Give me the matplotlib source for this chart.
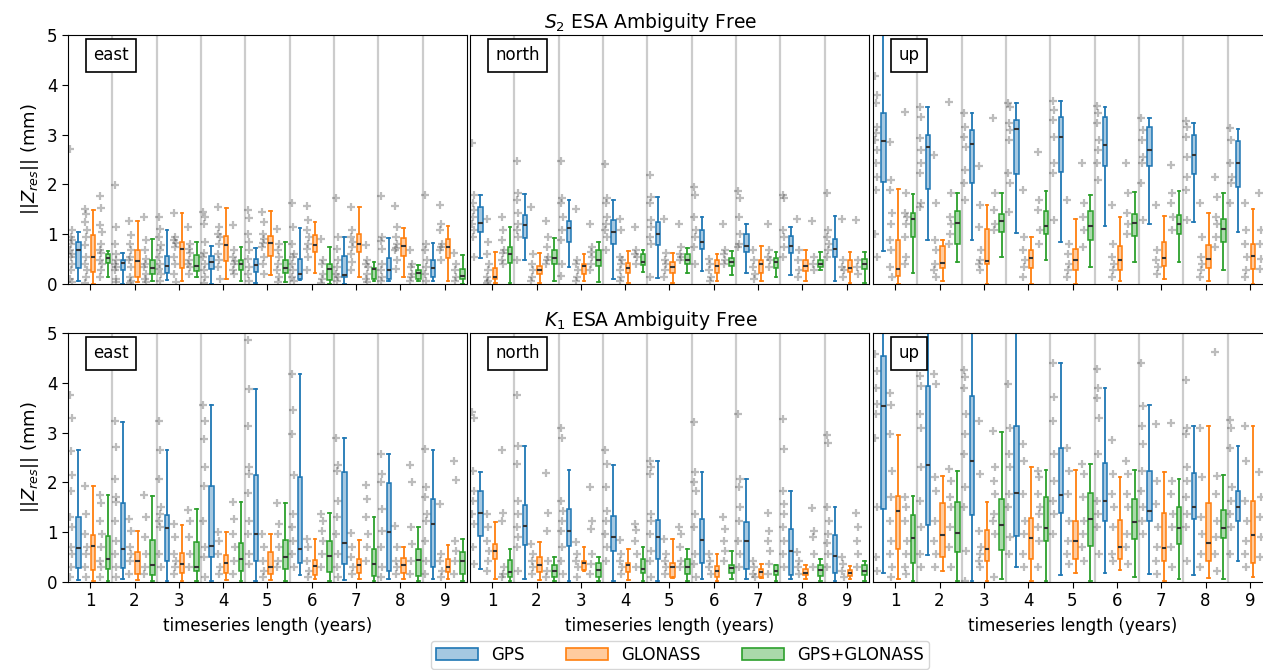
import numpy as np
import matplotlib
matplotlib.use("Agg")
import matplotlib.pyplot as plt
from matplotlib.patches import Patch

# ---------------- data ----------------
YEARS = [1, 2, 3, 4, 5, 6, 7, 8, 9]
SYSTEMS = ["GPS", "GLONASS", "GPS+GLONASS"]
COMPONENTS = ["east", "north", "up"]
TIDES = ["S_2", "K_1"]

# box stats per length: (whislo, q1, median, q3, whishi) in mm
S2_EAST_GPS_BOX = [(0.06,0.33,0.69,0.85,1.05),(0.0,0.28,0.43,0.48,0.62),(0.09,0.23,0.37,0.57,1.08),
                   (0.0,0.30,0.45,0.56,0.76),(0.02,0.25,0.38,0.50,0.72),(0.09,0.10,0.21,0.50,1.12),
                   (0.0,0.14,0.19,0.57,0.95),(0.07,0.11,0.29,0.52,0.92),(0.06,0.14,0.32,0.49,0.83)]
S2_EAST_GLO_BOX = [(0.0,0.25,0.54,0.99,1.48),(0.04,0.14,0.46,0.68,1.27),(0.07,0.33,0.71,0.84,1.43),
                   (0.11,0.46,0.79,0.96,1.52),(0.18,0.57,0.83,0.96,1.47),(0.23,0.65,0.79,0.99,1.24),
                   (0.15,0.64,0.80,1.00,1.54),(0.14,0.56,0.77,0.92,1.13),(0.07,0.53,0.74,0.91,1.16)]
S2_EAST_GG_BOX = [(0.14,0.42,0.52,0.61,0.66),(0.07,0.21,0.32,0.49,0.91),(0.15,0.26,0.36,0.58,0.85),
                  (0.07,0.29,0.41,0.48,0.74),(0.04,0.22,0.33,0.48,0.84),(0.0,0.09,0.30,0.40,0.74),
                  (0.06,0.11,0.30,0.33,0.45),(0.06,0.11,0.22,0.29,0.38),(0.0,0.10,0.17,0.30,0.58)]

S2_NORTH_GPS_BOX = [(0.52,1.04,1.23,1.54,1.79),(0.48,0.92,1.19,1.38,1.81),(0.34,0.84,1.13,1.27,1.68),
                    (0.11,0.81,1.05,1.28,1.68),(0.13,0.79,1.01,1.24,1.75),(0.26,0.70,0.84,1.09,1.34),
                    (0.23,0.65,0.77,1.00,1.21),(0.18,0.62,0.77,0.97,1.15),(0.07,0.54,0.70,0.91,1.36)]
S2_NORTH_GLO_BOX = [(0.02,0.11,0.14,0.32,0.65),(0.03,0.21,0.28,0.37,0.62),(0.06,0.21,0.37,0.40,0.60),
                    (0.03,0.22,0.33,0.42,0.66),(0.02,0.22,0.34,0.45,0.62),(0.07,0.23,0.37,0.48,0.61),
                    (0.07,0.22,0.40,0.48,0.76),(0.07,0.26,0.37,0.48,0.68),(0.03,0.25,0.33,0.49,0.65)]
S2_NORTH_GG_BOX = [(0.03,0.42,0.60,0.74,1.15),(0.06,0.41,0.53,0.69,0.93),(0.05,0.37,0.48,0.68,0.85),
                   (0.25,0.38,0.45,0.60,0.69),(0.22,0.40,0.48,0.61,0.72),(0.19,0.36,0.44,0.53,0.66),
                   (0.14,0.33,0.44,0.52,0.65),(0.28,0.34,0.41,0.49,0.64),(0.03,0.30,0.40,0.50,0.64)]

S2_UP_GPS_BOX = [(0.66,2.05,2.87,3.44,5.5),(0.88,1.91,2.76,2.99,3.56),(0.88,2.02,2.81,3.09,3.43),
                 (1.03,2.21,3.12,3.30,3.64),(0.85,2.25,2.95,3.35,3.68),(1.17,2.37,2.80,3.35,3.56),
                 (1.21,2.36,2.70,3.16,3.34),(1.24,2.21,2.60,2.99,3.24),(1.05,1.95,2.42,2.88,3.12)]
S2_UP_GLO_BOX = [(0.0,0.17,0.30,0.88,1.90),(0.07,0.32,0.42,0.77,0.89),(0.0,0.41,0.46,1.11,1.58),
                 (0.0,0.33,0.52,0.68,0.95),(0.0,0.29,0.49,0.70,1.31),(0.06,0.29,0.48,0.77,1.34),
                 (0.11,0.37,0.52,0.84,1.36),(0.06,0.33,0.50,0.79,1.43),(0.0,0.30,0.56,0.80,1.51)]
S2_UP_GG_BOX = [(0.23,0.95,1.31,1.42,1.81),(0.44,0.81,1.23,1.47,1.82),(0.54,1.05,1.27,1.40,1.82),
                (0.48,1.00,1.17,1.47,1.87),(0.34,0.89,1.17,1.47,1.79),(0.45,0.96,1.23,1.40,1.85),
                (0.45,1.01,1.21,1.39,1.86),(0.29,0.85,1.11,1.30,1.82),(0.40,0.90,1.10,1.35,1.80)]

K1_EAST_GPS_BOX = [(0.05,0.29,0.69,1.31,2.65),(0.06,0.29,0.66,1.58,3.22),(0.03,0.42,1.09,1.35,2.66),
                   (0.03,0.51,0.73,1.93,3.55),(0.03,0.42,0.97,2.14,3.87),(0.15,0.38,0.67,2.11,4.17),
                   (0.05,0.37,0.78,2.21,2.89),(0.06,0.23,1.01,1.98,2.57),(0.06,0.31,1.17,1.66,2.66)]
K1_EAST_GLO_BOX = [(0.03,0.25,0.73,0.95,1.93),(0.05,0.17,0.43,0.61,1.02),(0.03,0.18,0.37,0.59,1.15),
                   (0.05,0.18,0.38,0.55,1.01),(0.05,0.17,0.30,0.61,0.97),(0.06,0.15,0.33,0.45,0.86),
                   (0.07,0.19,0.34,0.47,0.85),(0.06,0.19,0.34,0.49,0.71),(0.06,0.21,0.31,0.46,0.74)]
K1_EAST_GG_BOX = [(0.03,0.26,0.46,0.93,1.75),(0.03,0.15,0.34,0.85,1.73),(0.03,0.22,0.30,0.81,1.46),
                  (0.03,0.22,0.47,0.78,1.61),(0.03,0.27,0.51,0.85,1.58),(0.03,0.21,0.53,0.82,1.38),
                  (0.03,0.13,0.37,0.67,1.31),(0.03,0.13,0.45,0.67,1.10),(0.03,0.17,0.42,0.61,0.86)]

K1_NORTH_GPS_BOX = [(0.27,0.93,1.39,1.83,2.21),(0.07,0.74,1.13,1.55,2.74),(0.03,0.73,1.03,1.46,2.25),
                    (0.03,0.62,0.91,1.33,2.35),(0.03,0.46,0.90,1.25,2.42),(0.06,0.38,0.85,1.27,2.21),
                    (0.07,0.27,0.82,1.21,2.06),(0.07,0.14,0.63,1.06,1.82),(0.03,0.19,0.53,0.95,1.50)]
K1_NORTH_GLO_BOX = [(0.06,0.47,0.63,0.77,1.21),(0.05,0.21,0.34,0.50,0.81),(0.23,0.25,0.38,0.43,0.70),
                    (0.05,0.21,0.35,0.39,0.67),(0.09,0.10,0.30,0.39,0.86),(0.03,0.10,0.23,0.33,0.57),
                    (0.09,0.11,0.21,0.27,0.37),(0.07,0.14,0.19,0.27,0.34),(0.06,0.13,0.19,0.25,0.33)]
K1_NORTH_GG_BOX = [(0.03,0.10,0.21,0.45,0.67),(0.03,0.11,0.23,0.35,0.50),(0.03,0.11,0.25,0.38,0.51),
                   (0.03,0.19,0.27,0.47,0.70),(0.03,0.17,0.30,0.46,0.67),(0.07,0.18,0.29,0.35,0.63),
                   (0.03,0.15,0.23,0.34,0.34),(0.03,0.13,0.25,0.35,0.46),(0.03,0.14,0.23,0.34,0.43)]

K1_UP_GPS_BOX = [(0.19,1.47,3.53,4.54,5.5),(0.54,1.14,2.34,3.93,5.5),(0.03,1.35,2.43,3.74,5.5),
                 (0.31,0.93,1.79,3.13,5.5),(0.14,1.39,1.74,2.69,4.39),(0.19,1.23,1.63,2.39,3.89),
                 (0.17,1.23,1.42,2.23,3.55),(0.15,1.26,1.51,2.18,3.13),(0.43,1.23,1.51,1.83,2.73)]
K1_UP_GLO_BOX = [(0.07,0.66,1.43,1.73,2.95),(0.23,0.50,0.94,1.58,2.13),(0.03,0.43,0.67,1.05,1.61),
                 (0.03,0.46,0.89,1.29,2.31),(0.18,0.46,0.83,1.23,2.25),(0.25,0.46,0.70,1.25,2.10),
                 (0.03,0.42,0.69,1.39,2.21),(0.09,0.42,0.79,1.58,3.14),(0.11,0.39,0.94,1.63,3.13)]
K1_UP_GG_BOX = [(0.03,0.38,0.89,1.34,1.73),(0.03,0.61,0.98,1.61,2.22),(0.06,0.65,1.14,1.66,3.02),
                (0.03,0.83,1.09,1.70,2.25),(0.03,0.73,1.26,1.79,2.37),(0.11,0.86,1.21,1.66,2.25),
                (0.06,0.77,1.09,1.50,2.07),(0.07,0.89,1.09,1.45,2.14),(0.05,0.75,1.10,1.45,2.20)]

# individual station values (grey crosses) per length
S2_EAST_GPS_PTS = [[2.72,1.08,0.95,0.88,0.81,0.68,0.6,0.54,0.41,0.28,0.11,0.05],
                   [1.99,1.15,0.81,0.6,0.48,0.41,0.35,0.28,0.11,0.04],
                   [1.34,1.11,0.95,0.78,0.68,0.55,0.41,0.3,0.21,0.07],
                   [1.45,1.35,1.21,0.85,0.62,0.54,0.41,0.28,0.14,0.03],
                   [1.48,1.32,1.01,0.85,0.68,0.5,0.34,0.21,0.07],
                   [1.62,1.15,0.81,0.6,0.54,0.41,0.28,0.14,0.07],
                   [1.72,0.95,0.7,0.48,0.34,0.21,0.14,0.07],
                   [1.77,0.95,0.87,0.7,0.41,0.28,0.14,0.07],
                   [1.78,0.81,0.68,0.48,0.34,0.21,0.07]]
S2_EAST_GLO_PTS = [[1.5,1.4,1.25,1.08,0.95,0.78,0.55,0.41,0.28,0.14,0.02],
                   [1.26,0.98,0.81,0.68,0.55,0.48,0.34,0.14,0.07,0.02],
                   [1.43,0.95,0.88,0.82,0.74,0.54,0.41,0.2,0.05],
                   [1.55,1.15,1.01,0.95,0.81,0.61,0.48,0.34,0.11],
                   [1.45,1.25,1.01,0.9,0.82,0.74,0.55,0.41,0.2],
                   [1.56,1.28,1.08,0.95,0.81,0.7,0.54,0.28],
                   [1.55,1.08,0.95,0.85,0.74,0.6,0.45,0.28],
                   [1.56,1.15,0.95,0.81,0.72,0.68,0.48,0.3],
                   [1.58,1.21,1.08,0.81,0.74,0.68,0.48]]
S2_EAST_GG_PTS = [[1.77,1.52,1.19,1.05,0.81,0.68,0.62,0.48,0.41,0.28,0.14],
                  [1.35,0.89,0.68,0.5,0.4,0.34,0.21,0.11,0.05],
                  [1.15,0.81,0.7,0.62,0.48,0.4,0.34,0.2],
                  [1.18,0.68,0.55,0.47,0.41,0.28,0.2],
                  [1.11,0.81,0.68,0.55,0.41,0.28,0.14,0.05],
                  [0.91,0.48,0.41,0.21,0.1,0.03],
                  [0.78,0.48,0.41,0.34,0.2,0.11,0.04],
                  [0.68,0.41,0.34,0.2,0.14,0.07],
                  [0.62,0.41,0.28,0.14,0.07]]

S2_NORTH_GPS_PTS = [[2.83,1.79,1.62,1.48,1.35,1.21,1.08,0.95,0.54],
                    [2.46,1.82,1.68,1.42,1.21,1.08,0.95,0.48],
                    [2.47,1.72,1.62,1.35,1.08,0.88,0.41,0.17],
                    [2.4,1.72,1.62,1.35,1.21,1.08,0.95,0.68],
                    [2.19,1.75,1.62,1.28,1.15,0.95,0.81,0.14],
                    [1.94,1.79,1.35,1.08,0.95,0.74,0.41],
                    [1.87,1.72,1.35,1.01,0.81,0.74],
                    [1.79,1.72,1.08,0.95,0.74,0.54],
                    [1.83,1.08,0.95,0.81,0.68,0.54]]
S2_NORTH_GLO_PTS = [[1.31,0.84,0.61,0.41,0.28,0.14,0.07,0.03],
                    [1.55,0.61,0.41,0.28,0.14,0.07],
                    [1.5,0.48,0.41,0.28,0.14,0.07],
                    [1.31,1.08,0.54,0.48,0.41,0.28,0.14,0.07],
                    [1.31,0.62,0.48,0.41,0.28,0.14],
                    [0.5,0.41,0.28,0.14,0.07],
                    [0.68,0.48,0.34,0.21,0.1],
                    [1.3,0.68,0.48,0.28,0.14],
                    [1.31,0.48,0.34,0.28,0.14]]
S2_NORTH_GG_PTS = [[1.35,1.08,0.88,0.68,0.62,0.48,0.41],
                   [1.27,0.95,0.74,0.54,0.48,0.41],
                   [1.21,0.74,0.65,0.54,0.41,0.28],
                   [1.15,0.68,0.6,0.54,0.41],
                   [1.21,0.74,0.61,0.55,0.48],
                   [1.21,0.68,0.6,0.48,0.41],
                   [1.21,0.68,0.55,0.48,0.34],
                   [1.26,0.54,0.41,0.28],
                   [1.28,0.48,0.34,0.21]]

S2_UP_GPS_PTS = [[4.17,3.79,3.63,3.16,3.03,2.89,2.69,2.42,2.15,1.89,1.01,0.54],
                 [3.56,3.36,2.93,2.69,2.42,2.22,1.62,1.55],
                 [3.43,3.16,2.96,2.76,2.29,2.02,1.68],
                 [3.64,3.56,3.23,3.09,2.89,2.22,2.02,1.45],
                 [3.68,3.5,3.3,2.96,2.42,2.22,1.28],
                 [3.58,3.43,3.23,2.89,2.69,2.42,2.09],
                 [3.33,3.09,2.89,2.56,2.42,2.02,1.28],
                 [3.28,3.16,2.96,2.56,2.15,1.89,1.28],
                 [3.13,2.89,2.42,2.15,2.02,1.62]]
S2_UP_GLO_PTS = [[2.86,2.09,1.89,1.42,1.21,0.88,0.68,0.34,0.14],
                 [2.6,1.63,0.88,0.68,0.41,0.28,0.14],
                 [2.36,1.58,1.15,0.68,0.48,0.41,0.28],
                 [1.89,0.95,0.68,0.48,0.34,0.14],
                 [1.68,0.81,0.61,0.41,0.28,0.14],
                 [1.58,0.81,0.54,0.41,0.28,0.14],
                 [1.58,0.68,0.48,0.34,0.21],
                 [1.62,0.95,0.54,0.41,0.28,0.14],
                 [1.63,1.08,0.81,0.54,0.28,0.14]]
S2_UP_GG_PTS = [[3.46,1.82,1.42,1.35,1.21,0.95,0.54,0.41],
                [3.66,1.82,1.35,1.21,1.01,0.81],
                [3.33,1.82,1.48,1.21,1.08],
                [2.66,1.68,1.48,1.08,0.81],
                [2.42,1.62,1.35,1.08,0.74],
                [2.43,1.82,1.42,1.21,1.01],
                [2.39,1.82,1.62,1.35,1.08],
                [2.15,1.75,1.35,1.21,0.95,0.74],
                [1.82,1.08,0.81,0.5,0.3]]

K1_EAST_GPS_PTS = [[3.75,3.29,2.63,2.15,1.82,1.3,1.1,0.7,0.57,0.3,0.1],
                   [3.23,2.71,2.06,1.7,1.6,1.23,0.83,0.57,0.3,0.1],
                   [3.23,2.66,2.07,1.5,1.37,1.23,1.1,0.57,0.3],
                   [3.55,3.23,2.87,2.3,1.93,1.23,0.7,0.5,0.1],
                   [4.85,3.87,3.13,2.3,2.17,1.79,1.23,0.97,0.57,0.37],
                   [4.17,3.45,2.97,2.15,1.37,1.1,0.83,0.57,0.3],
                   [2.89,2.35,2.23,1.63,1.3,0.97,0.57,0.3,0.1],
                   [2.57,2.17,2.01,1.46,1.03,0.7,0.3,0.1],
                   [2.67,1.9,1.7,1.37,1.23,0.83,0.43,0.17]]
K1_EAST_GLO_PTS = [[1.93,1.37,0.97,0.7,0.57,0.3,0.1],
                   [1.26,1.03,0.7,0.57,0.43,0.17],
                   [1.17,0.9,0.57,0.43,0.3,0.17],
                   [1.01,0.83,0.57,0.3,0.17],
                   [0.97,0.7,0.43,0.23,0.1],
                   [0.86,0.7,0.43,0.23,0.1],
                   [0.99,0.7,0.5,0.3,0.17],
                   [1.13,0.7,0.43,0.3,0.17],
                   [1.57,0.57,0.43,0.23,0.1]]
K1_EAST_GG_PTS = [[1.75,1.58,1.23,0.97,0.7,0.43,0.3,0.1],
                  [1.75,1.3,0.9,0.57,0.3,0.17],
                  [1.45,1.23,0.9,0.57,0.3],
                  [1.61,1.26,0.97,0.7,0.43,0.17],
                  [1.58,1.17,0.97,0.7,0.43,0.3],
                  [1.37,1.23,1.03,0.83,0.57,0.3],
                  [1.95,1.67,1.3,0.97,0.7,0.43],
                  [2.35,2.01,1.1,0.77,0.43,0.17],
                  [2.43,2.05,0.83,0.63,0.43,0.17]]

K1_NORTH_GPS_PTS = [[3.42,3.3,2.23,1.83,1.63,1.37,1.17,0.7,0.37],
                    [3.75,2.74,2.37,1.63,1.37,1.1,0.9,0.7,0.23],
                    [3.09,2.9,1.63,1.43,1.23,1.03,0.7,0.43,0.17],
                    [2.65,2.37,1.9,1.43,1.23,0.97,0.7,0.43],
                    [2.43,2.3,2.17,1.37,1.23,0.97,0.63,0.43,0.1],
                    [3.22,2.21,2.01,1.83,1.37,1.1,0.57,0.37,0.1],
                    [3.37,2.06,1.9,1.5,1.23,0.83,0.57,0.3],
                    [3.27,2.67,1.83,1.57,1.37,1.1,0.83,0.57,0.3],
                    [2.95,2.79,1.5,1.23,0.97,0.79,0.57,0.3]]
K1_NORTH_GLO_PTS = [[1.37,1.1,0.83,0.63,0.43,0.23],
                    [0.77,0.57,0.43,0.3,0.17],
                    [0.81,0.57,0.43,0.3,0.1],
                    [0.85,0.57,0.43,0.3,0.17],
                    [0.86,0.57,0.43,0.3,0.17],
                    [0.57,0.43,0.3,0.17],
                    [0.43,0.3,0.17,0.1],
                    [0.61,0.43,0.3,0.17],
                    [0.5,0.37,0.23,0.1]]
K1_NORTH_GG_PTS = [[2.65,1.39,1.23,0.3,0.17,0.1],
                   [2.19,1.38,1.03,0.43,0.23,0.1],
                   [1.91,1.23,1.07,0.57,0.37,0.17],
                   [1.17,1.05,0.83,0.57,0.3],
                   [1.1,0.97,0.7,0.43,0.3],
                   [1.3,1.07,0.83,0.63,0.43],
                   [1.38,1.03,0.83,0.63,0.37,0.17],
                   [1.49,1.03,0.9,0.57,0.3],
                   [1.39,1.1,0.83,0.57,0.3]]

K1_UP_GPS_PTS = [[4.57,4.23,3.9,3.57,3.37,2.9,1.5,0.5,0.23],
                 [4.13,3.93,3.37,3.1,2.3,1.63,1.1,0.57,0.3],
                 [4.26,4.11,3.9,3.37,2.97,2.57,1.9,1.5,0.63,0.03],
                 [3.97,3.1,2.57,2.3,1.77,1.5,0.9,0.57],
                 [4.39,3.71,3.23,2.57,2.03,1.63,1.37,0.97],
                 [4.27,3.9,3.7,3.3,2.57,1.63,1.37,1.1,0.57],
                 [4.39,3.54,3.14,2.77,2.23,1.83,1.5,1.23,0.97],
                 [4.06,3.1,2.97,2.3,2.03,1.7,1.37,1.1,0.43],
                 [3.25,3.1,2.7,1.9,1.63,1.37,1.1,0.57]]
K1_UP_GLO_PTS = [[3.79,3.55,2.97,2.23,1.7,1.23,0.83,0.57,0.3,0.1],
                 [4.17,3.97,2.1,1.83,1.23,0.83,0.57,0.3],
                 [3.23,2.17,1.03,0.7,0.57,0.43,0.3],
                 [2.77,2.43,1.77,1.23,0.97,0.57,0.3],
                 [2.7,2.23,1.77,1.23,0.83,0.57,0.37],
                 [2.86,2.17,1.77,1.5,1.1,0.57,0.43],
                 [3.17,2.03,1.57,1.1,0.7,0.43,0.17],
                 [3.1,2.1,1.3,0.97,0.57,0.3],
                 [3.13,2.43,1.63,1.23,0.83,0.57,0.3]]
K1_UP_GG_PTS = [[1.7,1.5,1.23,0.83,0.57,0.3,0.17],
                [2.27,2.03,1.7,1.5,1.1,0.7,0.3],
                [3.03,2.3,2.03,1.77,1.37,1.23,0.97,0.1],
                [2.23,2.1,1.77,1.5,1.37,1.1,0.83,0.3],
                [2.37,2.17,1.7,1.23,0.97,0.7,0.43],
                [2.43,2.17,1.77,1.5,0.97,0.7,0.37],
                [3.2,2.03,1.77,1.37,1.1,0.7,0.3],
                [4.61,2.13,1.77,1.23,0.9,0.57,0.23],
                [2.2,1.7,1.3,0.9,0.5]]

BOXES = {
    ("S_2", "east"): [S2_EAST_GPS_BOX, S2_EAST_GLO_BOX, S2_EAST_GG_BOX],
    ("S_2", "north"): [S2_NORTH_GPS_BOX, S2_NORTH_GLO_BOX, S2_NORTH_GG_BOX],
    ("S_2", "up"): [S2_UP_GPS_BOX, S2_UP_GLO_BOX, S2_UP_GG_BOX],
    ("K_1", "east"): [K1_EAST_GPS_BOX, K1_EAST_GLO_BOX, K1_EAST_GG_BOX],
    ("K_1", "north"): [K1_NORTH_GPS_BOX, K1_NORTH_GLO_BOX, K1_NORTH_GG_BOX],
    ("K_1", "up"): [K1_UP_GPS_BOX, K1_UP_GLO_BOX, K1_UP_GG_BOX],
}
POINTS = {
    ("S_2", "east"): [S2_EAST_GPS_PTS, S2_EAST_GLO_PTS, S2_EAST_GG_PTS],
    ("S_2", "north"): [S2_NORTH_GPS_PTS, S2_NORTH_GLO_PTS, S2_NORTH_GG_PTS],
    ("S_2", "up"): [S2_UP_GPS_PTS, S2_UP_GLO_PTS, S2_UP_GG_PTS],
    ("K_1", "east"): [K1_EAST_GPS_PTS, K1_EAST_GLO_PTS, K1_EAST_GG_PTS],
    ("K_1", "north"): [K1_NORTH_GPS_PTS, K1_NORTH_GLO_PTS, K1_NORTH_GG_PTS],
    ("K_1", "up"): [K1_UP_GPS_PTS, K1_UP_GLO_PTS, K1_UP_GG_PTS],
}

# ---------------- styling / layout ----------------
COLORS = ["#1f77b4", "#ff7f0e", "#2ca02c"]
SLOT = [-1/3, 0.0, 1/3]
BOX_OFF = 0.07
PT_OFF = -0.095
W, H = 1263, 670

fig = plt.figure(figsize=(W / 100, H / 100), dpi=100)

col_x = [68, 470, 873]
row_top = [35, 333]
ax_w, ax_h = 399, 249

for r, tide in enumerate(TIDES):
    for c, comp in enumerate(COMPONENTS):
        x0 = col_x[c] / W
        y0 = 1 - (row_top[r] + ax_h) / H
        ax = fig.add_axes([x0, y0, ax_w / W, ax_h / H])
        ax.set_xlim(0.5, 9.5)
        ax.set_ylim(0, 5)
        for b in np.arange(1.5, 9.5, 1.0):
            ax.axvline(b, color="#cccccc", lw=1.6, zorder=0)

        for s in range(3):
            stats_src = BOXES[(tide, comp)][s]
            pts_src = POINTS[(tide, comp)][s]
            # grey station values
            for i, yr in enumerate(YEARS):
                vals = np.asarray(pts_src[i])
                jit = (((np.arange(len(vals)) * 3) % 5) - 2) * 0.011
                ax.plot(yr + SLOT[s] + PT_OFF + jit, vals, "+", color="0.25",
                        alpha=0.35, ms=5.5, mew=1.6, zorder=2)
            stats = [dict(whislo=t[0], q1=t[1], med=t[2], q3=t[3], whishi=t[4])
                     for t in stats_src]
            pos = [yr + SLOT[s] + BOX_OFF for yr in YEARS]
            col = COLORS[s]
            bp = ax.bxp(stats, positions=pos, widths=0.1, patch_artist=True,
                        showfliers=False, capwidths=0.06, manage_ticks=False,
                        boxprops=dict(facecolor=matplotlib.colors.to_rgba(col, 0.4),
                                      edgecolor=col, lw=1.1),
                        whiskerprops=dict(color=col, lw=1.3),
                        capprops=dict(color=col, lw=1.3),
                        medianprops=dict(color="#333333", lw=1.5))
            for p in bp["boxes"]:
                p.set_zorder(3)
            for m in bp["medians"]:
                m.set_zorder(4)

        ax.set_xticks(YEARS)
        ax.set_yticks([0, 1, 2, 3, 4, 5])
        ax.tick_params(labelsize=12, direction="out", length=4)
        if r == 0:
            ax.tick_params(labelbottom=False)
        else:
            ax.set_xlabel("timeseries length (years)", fontsize=12, labelpad=5)
        if c == 0:
            ax.set_ylabel(r"$||Z_{res}||$ (mm)", fontsize=13)
        else:
            ax.tick_params(left=False, labelleft=False)
        ax.text(0.063, 0.955, comp, transform=ax.transAxes, fontsize=12,
                ha="left", va="top", zorder=10,
                bbox=dict(boxstyle="square,pad=0.45", fc="white", ec="black", lw=1.2))

for r, tide in enumerate(TIDES):
    fig.text(651 / W, 1 - (row_top[r] - 13) / H, rf"${tide}$ ESA Ambiguity Free",
             ha="center", va="center", fontsize=13.5)

handles = [Patch(facecolor=matplotlib.colors.to_rgba(c, 0.4), edgecolor=c, lw=1.2)
           for c in COLORS]
fig.legend(handles, SYSTEMS, loc="center", bbox_to_anchor=(680 / W, 1 - 655 / H),
           ncol=3, fontsize=12, frameon=True, handlelength=2.5, columnspacing=2.5,
           borderpad=0.3)

fig.savefig("out.png", dpi=100)
